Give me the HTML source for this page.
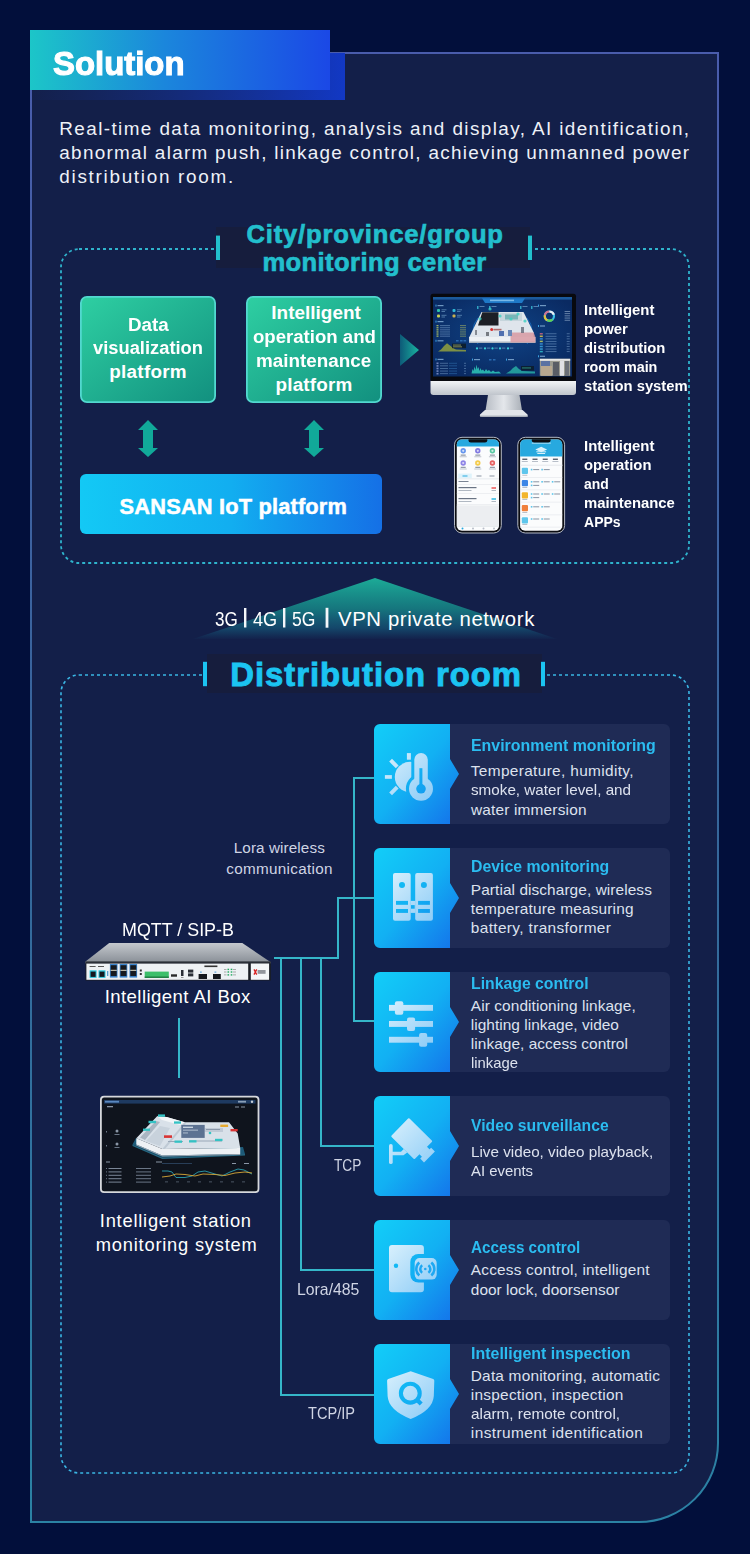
<!DOCTYPE html>
<html><head><meta charset="utf-8"><title>Solution</title>
<style>
html,body{margin:0;padding:0;}
body{width:750px;height:1554px;background:#020f3b;position:relative;overflow:hidden;font-family:"Liberation Sans",sans-serif;}
.t{position:absolute;white-space:nowrap;}
svg{position:absolute;left:0;top:0;}
</style></head><body>
<svg width="750" height="1554" viewBox="0 0 750 1554">
<defs>
<linearGradient id="gBorder" x1="0" y1="0" x2="0" y2="1"><stop offset="0" stop-color="#4a5cac"/><stop offset="0.5" stop-color="#36659a"/><stop offset="1" stop-color="#2b82a4"/></linearGradient>
<linearGradient id="gBanner" x1="0" y1="0" x2="1" y2="0"><stop offset="0" stop-color="#1cc6c8"/><stop offset="0.45" stop-color="#1b86dc"/><stop offset="1" stop-color="#1b48e6"/></linearGradient>
<linearGradient id="gGreen" x1="0" y1="0" x2="1" y2="1"><stop offset="0" stop-color="#2ecfa2"/><stop offset="1" stop-color="#12907f"/></linearGradient>
<linearGradient id="gIoT" x1="0" y1="0" x2="1" y2="0"><stop offset="0" stop-color="#13c9f5"/><stop offset="0.5" stop-color="#12aef0"/><stop offset="1" stop-color="#1570e6"/></linearGradient>
<linearGradient id="gIcon" x1="0" y1="0" x2="1" y2="1"><stop offset="0" stop-color="#12cef8"/><stop offset="0.5" stop-color="#12b0f3"/><stop offset="1" stop-color="#1470ea"/></linearGradient>
<linearGradient id="gGlyph" gradientUnits="userSpaceOnUse" x1="10" y1="25" x2="60" y2="75"><stop offset="0" stop-color="#dcf2fd"/><stop offset="1" stop-color="#8ccbf6"/></linearGradient>
<linearGradient id="gTri" x1="0" y1="0" x2="0" y2="1"><stop offset="0" stop-color="#1cab97"/><stop offset="0.5" stop-color="#179c94" stop-opacity="0.7"/><stop offset="0.82" stop-color="#1688a0" stop-opacity="0.38"/><stop offset="1" stop-color="#1680a0" stop-opacity="0.03"/></linearGradient>
<linearGradient id="gPlay" x1="0" y1="0" x2="1" y2="0"><stop offset="0" stop-color="#0d5a78"/><stop offset="1" stop-color="#19b3a0"/></linearGradient>
</defs><path d="M31,53 H718 V1443 A79,79 0 0 1 639,1522 H31 Z" fill="#131f49" stroke="url(#gBorder)" stroke-width="2"/><linearGradient id="gShadow" x1="0" y1="0" x2="1" y2="0"><stop offset="0" stop-color="#1a3a9a" stop-opacity="0.03"/><stop offset="0.5" stop-color="#1538b0" stop-opacity="0.5"/><stop offset="1" stop-color="#1238c4"/></linearGradient><rect x="31" y="53" width="314" height="47" fill="url(#gShadow)"/><rect x="30" y="30" width="300" height="60" fill="url(#gBanner)"/><rect x="61" y="249" width="628" height="314" rx="18" fill="none" stroke="#2fb3cc" stroke-width="1.8" stroke-dasharray="3 3"/><rect x="216" y="227" width="314" height="41" fill="#161d3d"/><rect x="216" y="235.6" width="4" height="24.4" fill="#22bfcd"/><rect x="528" y="235.6" width="4" height="24.4" fill="#22bfcd"/><rect x="80.9" y="296.9" width="134.2" height="105.2" rx="6" fill="url(#gGreen)" stroke="#52d8cf" stroke-width="1.8"/><rect x="246.9" y="296.9" width="134.2" height="105.2" rx="6" fill="url(#gGreen)" stroke="#52d8cf" stroke-width="1.8"/><path d="M148,420 L158,430 L153,430 L153,448 L158,448 L148,457 L138,448 L143,448 L143,430 L138,430 Z" fill="#11a999"/><path d="M314,420 L324,430 L319,430 L319,448 L324,448 L314,457 L304,448 L309,448 L309,430 L304,430 Z" fill="#11a999"/><rect x="80" y="474" width="302" height="60" rx="6" fill="url(#gIoT)"/><path d="M400,334 L419,350 L400,366 Z" fill="url(#gPlay)"/><defs><radialGradient id="gScr" cx="0.5" cy="0.45" r="0.6"><stop offset="0" stop-color="#0f4487"/><stop offset="1" stop-color="#0a2a62"/></radialGradient><linearGradient id="gChin" x1="0" y1="0" x2="0" y2="1"><stop offset="0" stop-color="#f2f4f6"/><stop offset="1" stop-color="#c0c5cc"/></linearGradient><linearGradient id="gNeck" x1="0" y1="0" x2="1" y2="0"><stop offset="0" stop-color="#b8bdc5"/><stop offset="0.5" stop-color="#e4e7eb"/><stop offset="1" stop-color="#aab0b8"/></linearGradient></defs><rect x="430.5" y="293.8" width="145.5" height="88" rx="2.5" fill="#08090e"/><rect x="433" y="297" width="139" height="79.5" fill="url(#gScr)"/><rect x="433" y="297" width="139" height="2.6" fill="#1b5a9c"/><path d="M482,298.3 H525 L522,303 H485 Z" fill="#1f79c8"/><rect x="490" y="299.6" width="24" height="1.6" fill="#9fd4f5" opacity=".7"/><rect x="437" y="309" width="3" height="3" rx="1" fill="#2fc3a8"/><rect x="441.5" y="309.3" width="5" height="1" fill="#7aa8d0" opacity=".6"/><rect x="441.5" y="311" width="3.5" height="1" fill="#7aa8d0" opacity=".6"/><rect x="452.5" y="309" width="3" height="3" rx="1" fill="#2fb8d8"/><rect x="457.0" y="309.3" width="5" height="1" fill="#7aa8d0" opacity=".6"/><rect x="457.0" y="311" width="3.5" height="1" fill="#7aa8d0" opacity=".6"/><rect x="437" y="314.5" width="3" height="3" rx="1" fill="#c8d050"/><rect x="441.5" y="314.8" width="5" height="1" fill="#7aa8d0" opacity=".6"/><rect x="441.5" y="316.5" width="3.5" height="1" fill="#7aa8d0" opacity=".6"/><rect x="452.5" y="314.5" width="3" height="3" rx="1" fill="#c8b050"/><rect x="457.0" y="314.8" width="5" height="1" fill="#7aa8d0" opacity=".6"/><rect x="457.0" y="316.5" width="3.5" height="1" fill="#7aa8d0" opacity=".6"/><rect x="435.5" y="304.6" width="1" height="2" fill="#3aa0e0"/><rect x="437.5" y="305.0" width="6" height="1.2" fill="#9ac4e8" opacity=".7"/><rect x="435.5" y="320.6" width="1" height="2" fill="#3aa0e0"/><rect x="437.5" y="321.0" width="6" height="1.2" fill="#9ac4e8" opacity=".7"/><rect x="435.5" y="339.8" width="1" height="2" fill="#3aa0e0"/><rect x="437.5" y="340.2" width="6" height="1.2" fill="#9ac4e8" opacity=".7"/><rect x="435.5" y="358.4" width="1" height="2" fill="#3aa0e0"/><rect x="437.5" y="358.79999999999995" width="6" height="1.2" fill="#9ac4e8" opacity=".7"/><rect x="436.5" y="325.0" width="2" height="1.3" fill="#b8c860" opacity=".85"/><rect x="440" y="325.2" width="10" height="0.9" fill="#8ab0d8" opacity=".55"/><rect x="460" y="325.2" width="6" height="0.9" fill="#c0c860" opacity=".6"/><rect x="436.5" y="327.1" width="2" height="1.3" fill="#b8c860" opacity=".85"/><rect x="440" y="327.3" width="10" height="0.9" fill="#8ab0d8" opacity=".55"/><rect x="460" y="327.3" width="6" height="0.9" fill="#c0c860" opacity=".6"/><rect x="436.5" y="329.2" width="2" height="1.3" fill="#b8c860" opacity=".85"/><rect x="440" y="329.4" width="10" height="0.9" fill="#8ab0d8" opacity=".55"/><rect x="460" y="329.4" width="6" height="0.9" fill="#c0c860" opacity=".6"/><rect x="436.5" y="331.3" width="2" height="1.3" fill="#b8c860" opacity=".85"/><rect x="440" y="331.5" width="10" height="0.9" fill="#8ab0d8" opacity=".55"/><rect x="460" y="331.5" width="6" height="0.9" fill="#c0c860" opacity=".6"/><rect x="436.5" y="333.4" width="2" height="1.3" fill="#b8c860" opacity=".85"/><rect x="440" y="333.59999999999997" width="10" height="0.9" fill="#8ab0d8" opacity=".55"/><rect x="460" y="333.59999999999997" width="6" height="0.9" fill="#c0c860" opacity=".6"/><rect x="436.5" y="335.5" width="2" height="1.3" fill="#b8c860" opacity=".85"/><rect x="440" y="335.7" width="10" height="0.9" fill="#8ab0d8" opacity=".55"/><rect x="460" y="335.7" width="6" height="0.9" fill="#c0c860" opacity=".6"/><path d="M438,351.5 L441,349.5 L444,346 L447,343.2 L450,345.5 L453,348 L456,349.5 L466,350 L466,351.5 Z" fill="#8a9a40" opacity=".9"/><rect x="452" y="343.6" width="14" height="4.6" fill="#0c1a20" opacity=".8"/><rect x="453" y="344.6" width="8" height="0.9" fill="#c8c870" opacity=".7"/><rect x="453" y="346.4" width="9" height="0.9" fill="#c8c870" opacity=".7"/><rect x="456" y="340" width="2.6" height="1.5" fill="#2a6ab0"/><rect x="460" y="340" width="2.6" height="1.5" fill="#2a6ab0"/><rect x="463.5" y="340" width="2.6" height="1.5" fill="#2a6ab0"/><rect x="436.5" y="362.5" width="2" height="1.6" fill="#8a9ad0" opacity=".8"/><rect x="440" y="362.8" width="8" height="0.9" fill="#8ab0d8" opacity=".5"/><rect x="449" y="362.8" width="8" height="0.9" fill="#3a80c0" opacity=".5"/><rect x="464" y="362.8" width="2" height="0.9" fill="#8ab0d8" opacity=".5"/><rect x="436.5" y="365.1" width="2" height="1.6" fill="#8a9ad0" opacity=".8"/><rect x="440" y="365.40000000000003" width="8" height="0.9" fill="#8ab0d8" opacity=".5"/><rect x="449" y="365.40000000000003" width="8" height="0.9" fill="#3a80c0" opacity=".5"/><rect x="464" y="365.40000000000003" width="2" height="0.9" fill="#8ab0d8" opacity=".5"/><rect x="436.5" y="367.7" width="2" height="1.6" fill="#8a9ad0" opacity=".8"/><rect x="440" y="368.0" width="8" height="0.9" fill="#8ab0d8" opacity=".5"/><rect x="449" y="368.0" width="8" height="0.9" fill="#3a80c0" opacity=".5"/><rect x="464" y="368.0" width="2" height="0.9" fill="#8ab0d8" opacity=".5"/><rect x="436.5" y="370.3" width="2" height="1.6" fill="#8a9ad0" opacity=".8"/><rect x="440" y="370.6" width="8" height="0.9" fill="#8ab0d8" opacity=".5"/><rect x="449" y="370.6" width="8" height="0.9" fill="#3a80c0" opacity=".5"/><rect x="464" y="370.6" width="2" height="0.9" fill="#8ab0d8" opacity=".5"/><rect x="436.5" y="372.9" width="2" height="1.6" fill="#8a9ad0" opacity=".8"/><rect x="440" y="373.2" width="8" height="0.9" fill="#8ab0d8" opacity=".5"/><rect x="449" y="373.2" width="8" height="0.9" fill="#3a80c0" opacity=".5"/><rect x="464" y="373.2" width="2" height="0.9" fill="#8ab0d8" opacity=".5"/><path d="M478,318 A26,22 0 0 0 478,344" fill="none" stroke="#1a78d0" stroke-width="1" opacity=".7"/><path d="M527,318 A26,22 0 0 1 527,344" fill="none" stroke="#1a78d0" stroke-width="1" opacity=".7"/><path d="M481.5,312 H523.5 L533.7,332.4 V337.5 H469.1 Z" fill="#dfe5ec"/><path d="M469.1,337 H535.4 V342.6 H469.1 Z" fill="#eef1f4"/><path d="M469.1,341.5 H535.4 V343 H469.1 Z" fill="#aab4c0"/><path d="M482.3,312.3 H498.5 V325.6 H478 Z" fill="#1c1f26"/><rect x="500" y="313" width="22" height="8" fill="#b0c8d0" opacity=".55"/><rect x="505" y="314.5" width="13" height="5" fill="#3a9a9a" opacity=".55"/><path d="M510.5,332.4 H533.7 L535.4,337 V342.6 H510.5 Z" fill="#d89aa2" opacity=".85"/><rect x="499" y="331" width="5" height="5" fill="#5070b0"/><rect x="508" y="330" width="4" height="6" fill="#6a88b8"/><circle cx="491.7" cy="329.6" r="1.5" fill="#d83030"/><rect x="493.5" y="328.8" width="8" height="1.6" fill="#a05050" opacity=".8"/><circle cx="480" cy="318.8" r="1.6" fill="#3ad0c0" opacity=".8"/><circle cx="490" cy="309" r="1.6" fill="#3ad0c0" opacity=".8"/><circle cx="500" cy="316" r="1.6" fill="#3ad0c0" opacity=".8"/><circle cx="511" cy="319" r="1.6" fill="#3ad0c0" opacity=".8"/><circle cx="518" cy="314" r="1.6" fill="#3ad0c0" opacity=".8"/><circle cx="525" cy="321" r="1.6" fill="#3ad0c0" opacity=".8"/><rect x="486" y="332" width="3" height="4" fill="#30343c" opacity=".6"/><rect x="475" y="330" width="2" height="5" fill="#30343c" opacity=".5"/><rect x="521" y="327" width="3" height="6" fill="#50586a" opacity=".7"/><rect x="477" y="306" width="1.5" height="3" fill="#3ac0d8" opacity=".8"/><rect x="479.5" y="306" width="5" height="1" fill="#8ab0d8" opacity=".6"/><rect x="489" y="306" width="1.5" height="3" fill="#3ac0d8" opacity=".8"/><rect x="491.5" y="306" width="5" height="1" fill="#8ab0d8" opacity=".6"/><rect x="520" y="306" width="1.5" height="3" fill="#3ac0d8" opacity=".8"/><rect x="522.5" y="306" width="5" height="1" fill="#8ab0d8" opacity=".6"/><rect x="531" y="306" width="1.5" height="3" fill="#3ac0d8" opacity=".8"/><rect x="533.5" y="306" width="5" height="1" fill="#8ab0d8" opacity=".6"/><circle cx="477" cy="348.4" r="1.1" fill="#3ad0d8"/><rect x="478.8" y="347.6" width="3.5" height="1" fill="#8ab0d8" opacity=".6"/><circle cx="485" cy="348.4" r="1.1" fill="#3ad0d8"/><rect x="486.8" y="347.6" width="3.5" height="1" fill="#8ab0d8" opacity=".6"/><circle cx="492.5" cy="348.4" r="1.1" fill="#3ad0d8"/><rect x="494.3" y="347.6" width="3.5" height="1" fill="#8ab0d8" opacity=".6"/><circle cx="500" cy="348.4" r="1.1" fill="#3ad0d8"/><rect x="501.8" y="347.6" width="3.5" height="1" fill="#8ab0d8" opacity=".6"/><circle cx="508" cy="348.4" r="1.1" fill="#3ad0d8"/><rect x="509.8" y="347.6" width="3.5" height="1" fill="#8ab0d8" opacity=".6"/><path d="M471.5,373.5 L472.5,369 L473.5,371 L474.5,366.5 L475.5,370 L476.5,364.5 L477.5,369 L478.5,367 L479.5,371 L480.5,368 L481.5,370.5 L483,369.5 L484.5,371.5 L486,369 L487.5,371 L489,370 L491,372 L493,370.5 L495,372 L499,371.5 L501,373.5 Z" fill="#2ec8b8" opacity=".85"/><rect x="472" y="358.6" width="1" height="2" fill="#3aa0e0"/><rect x="474" y="359" width="6" height="1.2" fill="#9ac4e8" opacity=".7"/><rect x="489" y="359" width="2.5" height="1.5" fill="#2a6ab0"/><rect x="493" y="359" width="2.5" height="1.5" fill="#2a6ab0"/><path d="M506,373.5 L510,371 L513,368 L516,366 L519,369 L522,371 L535,371.5 V373.5 Z" fill="#2ec8b0" opacity=".7"/><rect x="521" y="366" width="13" height="4.5" fill="#0c1a20" opacity=".75"/><rect x="522" y="367.5" width="9" height="0.9" fill="#40c8a0" opacity=".7"/><rect x="506" y="358.6" width="1" height="2" fill="#3aa0e0"/><rect x="508" y="359" width="6" height="1.2" fill="#9ac4e8" opacity=".7"/><rect x="538" y="304.6" width="1" height="2" fill="#3aa0e0"/><rect x="540" y="305" width="6" height="1.2" fill="#9ac4e8" opacity=".7"/><circle cx="549.4" cy="316.1" r="4.6" fill="none" stroke="#3ac0e8" stroke-width="2.2"/><path d="M549.4,311.5 A4.6,4.6 0 0 0 544.9,315.2" fill="none" stroke="#d07090" stroke-width="2.2"/><path d="M544.9,315.2 A4.6,4.6 0 0 0 547.5,320.3" fill="none" stroke="#e0c040" stroke-width="2.2"/><path d="M547.5,320.3 A4.6,4.6 0 0 0 552.5,319.5" fill="none" stroke="#60d050" stroke-width="2.2"/><path d="M549.4,311.5 A4.6,4.6 0 0 1 553.8,314.8" fill="none" stroke="#e8eef4" stroke-width="2.2"/><rect x="564.6" y="311.0" width="5.5" height="0.9" fill="#b0c8e0" opacity=".6"/><rect x="564.6" y="313.2" width="5.5" height="0.9" fill="#b0c8e0" opacity=".6"/><rect x="564.6" y="315.4" width="5.5" height="0.9" fill="#b0c8e0" opacity=".6"/><rect x="564.6" y="317.6" width="5.5" height="0.9" fill="#b0c8e0" opacity=".6"/><rect x="564.6" y="319.8" width="5.5" height="0.9" fill="#b0c8e0" opacity=".6"/><rect x="538" y="325" width="1" height="2" fill="#3aa0e0"/><rect x="540" y="325.4" width="5" height="1.2" fill="#9ac4e8" opacity=".7"/><rect x="539.8" y="333.0" width="3" height="1.5" fill="#c06080" opacity=".9"/><rect x="545.5" y="333.3" width="11" height="0.9" fill="#8ab0d8" opacity=".5"/><rect x="566.7" y="333.3" width="3" height="0.9" fill="#8ab0d8" opacity=".5"/><rect x="539.8" y="335.55" width="3" height="1.5" fill="#d8c050" opacity=".9"/><rect x="545.5" y="335.85" width="11" height="0.9" fill="#8ab0d8" opacity=".5"/><rect x="566.7" y="335.85" width="3" height="0.9" fill="#8ab0d8" opacity=".5"/><rect x="539.8" y="338.1" width="3" height="1.5" fill="#3a90d8" opacity=".9"/><rect x="545.5" y="338.40000000000003" width="11" height="0.9" fill="#8ab0d8" opacity=".5"/><rect x="566.7" y="338.40000000000003" width="3" height="0.9" fill="#8ab0d8" opacity=".5"/><rect x="539.8" y="340.65" width="3" height="1.5" fill="#b8c860" opacity=".9"/><rect x="545.5" y="340.95" width="11" height="0.9" fill="#8ab0d8" opacity=".5"/><rect x="566.7" y="340.95" width="3" height="0.9" fill="#8ab0d8" opacity=".5"/><rect x="539.8" y="343.2" width="3" height="1.5" fill="#3a90d8" opacity=".9"/><rect x="545.5" y="343.5" width="11" height="0.9" fill="#8ab0d8" opacity=".5"/><rect x="566.7" y="343.5" width="3" height="0.9" fill="#8ab0d8" opacity=".5"/><rect x="539.8" y="345.75" width="3" height="1.5" fill="#3aa0d8" opacity=".9"/><rect x="545.5" y="346.05" width="11" height="0.9" fill="#8ab0d8" opacity=".5"/><rect x="566.7" y="346.05" width="3" height="0.9" fill="#8ab0d8" opacity=".5"/><rect x="539.8" y="348.3" width="3" height="1.5" fill="#3aa0d8" opacity=".9"/><rect x="545.5" y="348.6" width="11" height="0.9" fill="#8ab0d8" opacity=".5"/><rect x="566.7" y="348.6" width="3" height="0.9" fill="#8ab0d8" opacity=".5"/><rect x="539.8" y="350.85" width="3" height="1.5" fill="#30b8c8" opacity=".9"/><rect x="545.5" y="351.15000000000003" width="11" height="0.9" fill="#8ab0d8" opacity=".5"/><rect x="566.7" y="351.15000000000003" width="3" height="0.9" fill="#8ab0d8" opacity=".5"/><rect x="538" y="355.3" width="1" height="2" fill="#3aa0e0"/><rect x="540" y="355.7" width="5" height="1.2" fill="#9ac4e8" opacity=".7"/><rect x="539.8" y="358.8" width="30.4" height="17" fill="#9a9a90"/><rect x="539.8" y="358.8" width="30.4" height="2" fill="#e8e8e8"/><rect x="541" y="361" width="9" height="5" fill="#4a68a8" opacity=".8"/><rect x="541" y="366" width="11" height="9.8" fill="#b8a890"/><rect x="553" y="362" width="6" height="13.8" fill="#5a5e66"/><rect x="560" y="360.8" width="4" height="15" fill="#e0e0e4"/><rect x="565" y="361" width="4" height="14.8" fill="#6a6e76"/><path d="M430.5,381 H576 V392 Q576,395 573,395 H433.5 Q430.5,395 430.5,392 Z" fill="url(#gChin)"/><path d="M488,395 H519.5 L522,410.5 H485.5 Z" fill="url(#gNeck)"/><path d="M485,410 H522.5 L527.5,414.5 Q528,416.7 525.5,416.7 H482 Q479.5,416.7 480,414.5 Z" fill="#e2e5e9"/><rect x="480" y="415.6" width="48" height="1.1" fill="#a8aeb6"/><rect x="454.5" y="437.3" width="46.8" height="95.7" rx="7.5" fill="#0c0d12" stroke="#b4b9c4" stroke-width="1"/><rect x="456.8" y="439.6" width="42.2" height="91.1" rx="5" fill="#fbfcfd"/><rect x="517.8" y="437.3" width="46.8" height="95.7" rx="7.5" fill="#0c0d12" stroke="#b4b9c4" stroke-width="1"/><rect x="520.0999999999999" y="439.6" width="42.2" height="91.1" rx="5" fill="#fbfcfd"/><path d="M456.8,445 Q456.8,439.6 462.3,439.6 H493.5 Q499.0,439.6 499.0,445 V446.6 H456.8 Z" fill="#27a9df"/><circle cx="463.2" cy="450.8" r="2.7" fill="#4a82ea" opacity=".85"/><circle cx="463.2" cy="450.8" r="1.1" fill="#fff" opacity=".7"/><rect x="460.7" y="454.6" width="5" height="1" fill="#7a8494"/><rect x="459.7" y="456.40000000000003" width="7" height="0.8" fill="#b0b6c0"/><circle cx="477.8" cy="450.8" r="2.7" fill="#6a62dc" opacity=".85"/><circle cx="477.8" cy="450.8" r="1.1" fill="#fff" opacity=".7"/><rect x="475.3" y="454.6" width="5" height="1" fill="#7a8494"/><rect x="474.3" y="456.40000000000003" width="7" height="0.8" fill="#b0b6c0"/><circle cx="492.4" cy="450.8" r="2.7" fill="#3cc094" opacity=".85"/><circle cx="492.4" cy="450.8" r="1.1" fill="#fff" opacity=".7"/><rect x="489.9" y="454.6" width="5" height="1" fill="#7a8494"/><rect x="488.9" y="456.40000000000003" width="7" height="0.8" fill="#b0b6c0"/><circle cx="463.2" cy="463.0" r="2.7" fill="#7a6ee2" opacity=".85"/><circle cx="463.2" cy="463.0" r="1.1" fill="#fff" opacity=".7"/><rect x="460.7" y="466.8" width="5" height="1" fill="#7a8494"/><rect x="459.7" y="468.6" width="7" height="0.8" fill="#b0b6c0"/><circle cx="477.8" cy="463.0" r="2.7" fill="#f2c22a" opacity=".85"/><circle cx="477.8" cy="463.0" r="1.1" fill="#fff" opacity=".7"/><rect x="475.3" y="466.8" width="5" height="1" fill="#7a8494"/><rect x="474.3" y="468.6" width="7" height="0.8" fill="#b0b6c0"/><circle cx="492.4" cy="463.0" r="2.7" fill="#e24646" opacity=".85"/><circle cx="492.4" cy="463.0" r="1.1" fill="#fff" opacity=".7"/><rect x="489.9" y="466.8" width="5" height="1" fill="#7a8494"/><rect x="488.9" y="468.6" width="7" height="0.8" fill="#b0b6c0"/><rect x="458.3" y="473.6" width="13.5" height="4.6" fill="#dff3fb"/><rect x="462.5" y="475.5" width="5" height="1" fill="#27a9df"/><rect x="476.5" y="475.5" width="5" height="1" fill="#8a94a4"/><rect x="489.5" y="475.5" width="5" height="1" fill="#8a94a4"/><rect x="456.8" y="478.6" width="42.2" height="0.6" fill="#dde1e6"/><rect x="458.5" y="481" width="10" height="1" fill="#7a8494"/><rect x="456.8" y="484" width="42.2" height="0.6" fill="#e4e7eb"/><rect x="458.5" y="487" width="18" height="1.2" fill="#6a7484"/><rect x="458.5" y="490" width="13" height="0.9" fill="#a8b0bc"/><rect x="491.5" y="487" width="4.5" height="2" fill="#f08080"/><rect x="491.5" y="490" width="4.5" height="0.9" fill="#a8b0bc"/><rect x="456.8" y="493" width="42.2" height="0.6" fill="#e4e7eb"/><rect x="458.5" y="498" width="18" height="1.2" fill="#6a7484"/><rect x="458.5" y="501" width="13" height="0.9" fill="#a8b0bc"/><rect x="491.5" y="498" width="4.5" height="2" fill="#60c8e8"/><rect x="491.5" y="501" width="4.5" height="0.9" fill="#a8b0bc"/><rect x="456.8" y="504" width="42.2" height="0.6" fill="#e4e7eb"/><rect x="456.8" y="505.4" width="42.2" height="20.8" fill="#eceef1"/><rect x="456.8" y="526.2" width="42.2" height="0.6" fill="#dde1e6"/><circle cx="462.5" cy="528.6" r="1" fill="#27a9df"/><circle cx="473.0" cy="528.6" r="1" fill="#b8bec8"/><circle cx="483.5" cy="528.6" r="1" fill="#b8bec8"/><circle cx="494.0" cy="528.6" r="1" fill="#b8bec8"/><path d="M520.0999999999999,445 Q520.0999999999999,439.6 525.5999999999999,439.6 H556.8 Q562.3,439.6 562.3,445 V456.4 H520.0999999999999 Z" fill="#27a9df"/><rect x="531.8" y="442.6" width="19" height="1" fill="#bfe7f8"/><path d="M535.3,449.5 L541.1999999999999,446.8 L547.0999999999999,449.5 L541.1999999999999,452.2 Z" fill="#d8f1fb"/><rect x="536.3" y="451.3" width="9.8" height="1" fill="#d8f1fb"/><rect x="537.3" y="453" width="7.8" height="1" fill="#d8f1fb"/><rect x="522.3" y="458.6" width="5" height="1.3" fill="#4a5464"/><rect x="521.8" y="461" width="6" height="0.8" fill="#a8b0bc"/><rect x="532.5" y="458.6" width="5" height="1.3" fill="#4a5464"/><rect x="532.0" y="461" width="6" height="0.8" fill="#a8b0bc"/><rect x="542.6999999999999" y="458.6" width="5" height="1.3" fill="#4a5464"/><rect x="542.1999999999999" y="461" width="6" height="0.8" fill="#a8b0bc"/><rect x="552.9" y="458.6" width="5" height="1.3" fill="#4a5464"/><rect x="552.4" y="461" width="6" height="0.8" fill="#a8b0bc"/><rect x="520.0999999999999" y="464.6" width="42.2" height="1.4" fill="#eceef1"/><rect x="521.8" y="467.8" width="6.2" height="6.2" rx="1" fill="#5ec6ec"/><rect x="522.3" y="474.8" width="5" height="0.8" fill="#a8b0bc"/><rect x="530.8" y="468.8" width="1.6" height="1.6" fill="#5ec6ec"/><rect x="533.1999999999999" y="469.1" width="6" height="1" fill="#8a94a4"/><rect x="541.3" y="468.8" width="1.6" height="1.6" fill="#5ec6ec"/><rect x="543.6999999999999" y="469.1" width="6" height="1" fill="#8a94a4"/><rect x="520.0999999999999" y="477.40000000000003" width="42.2" height="0.6" fill="#e4e7eb"/><rect x="521.8" y="480" width="6.2" height="6.2" rx="1" fill="#3d86e6"/><rect x="522.3" y="487" width="5" height="0.8" fill="#a8b0bc"/><rect x="530.8" y="481" width="1.6" height="1.6" fill="#5ec6ec"/><rect x="533.1999999999999" y="481.3" width="6" height="1" fill="#8a94a4"/><rect x="541.3" y="481" width="1.6" height="1.6" fill="#5ec6ec"/><rect x="543.6999999999999" y="481.3" width="6" height="1" fill="#8a94a4"/><rect x="551.8" y="481" width="1.6" height="1.6" fill="#5ec6ec"/><rect x="554.1999999999999" y="481.3" width="6" height="1" fill="#8a94a4"/><rect x="530.8" y="484.6" width="1.6" height="1.6" fill="#5ec6ec"/><rect x="533.1999999999999" y="484.9" width="6" height="1" fill="#8a94a4"/><rect x="520.0999999999999" y="489.6" width="42.2" height="0.6" fill="#e4e7eb"/><rect x="521.8" y="492.2" width="6.2" height="6.2" rx="1" fill="#f2b52c"/><rect x="522.3" y="499.2" width="5" height="0.8" fill="#a8b0bc"/><rect x="530.8" y="493.2" width="1.6" height="1.6" fill="#5ec6ec"/><rect x="533.1999999999999" y="493.5" width="6" height="1" fill="#8a94a4"/><rect x="541.3" y="493.2" width="1.6" height="1.6" fill="#5ec6ec"/><rect x="543.6999999999999" y="493.5" width="6" height="1" fill="#8a94a4"/><rect x="551.8" y="493.2" width="1.6" height="1.6" fill="#5ec6ec"/><rect x="554.1999999999999" y="493.5" width="6" height="1" fill="#8a94a4"/><rect x="530.8" y="496.8" width="1.6" height="1.6" fill="#5ec6ec"/><rect x="533.1999999999999" y="497.09999999999997" width="6" height="1" fill="#8a94a4"/><rect x="520.0999999999999" y="501.8" width="42.2" height="0.6" fill="#e4e7eb"/><rect x="521.8" y="505" width="6.2" height="6.2" rx="1" fill="#f0803c"/><rect x="522.3" y="512" width="5" height="0.8" fill="#a8b0bc"/><rect x="530.8" y="506" width="1.6" height="1.6" fill="#5ec6ec"/><rect x="533.1999999999999" y="506.3" width="6" height="1" fill="#8a94a4"/><rect x="541.3" y="506" width="1.6" height="1.6" fill="#5ec6ec"/><rect x="543.6999999999999" y="506.3" width="6" height="1" fill="#8a94a4"/><rect x="520.0999999999999" y="514.6" width="42.2" height="0.6" fill="#e4e7eb"/><rect x="521.8" y="517.2" width="6.2" height="6.2" rx="1" fill="#5ec6ec"/><rect x="522.3" y="524.2" width="5" height="0.8" fill="#a8b0bc"/><rect x="530.8" y="518.2" width="1.6" height="1.6" fill="#5ec6ec"/><rect x="533.1999999999999" y="518.5" width="6" height="1" fill="#8a94a4"/><rect x="541.3" y="518.2" width="1.6" height="1.6" fill="#5ec6ec"/><rect x="543.6999999999999" y="518.5" width="6" height="1" fill="#8a94a4"/><rect x="520.0999999999999" y="526.8000000000001" width="42.2" height="0.6" fill="#e4e7eb"/><path d="M468.5,439.3 H487.3 V440.5 Q487.3,442.6 485.0,442.6 H470.8 Q468.5,442.6 468.5,440.5 Z" fill="#0c0d12"/><path d="M531.8,439.3 H550.5999999999999 V440.5 Q550.5999999999999,442.6 548.3,442.6 H534.0999999999999 Q531.8,442.6 531.8,440.5 Z" fill="#0c0d12"/><path d="M375,578 L557,639 L193,639 Z" fill="url(#gTri)"/><rect x="61" y="675" width="628" height="798" rx="18" fill="none" stroke="#3ab6e4" stroke-width="1.6" stroke-dasharray="3 3"/><rect x="207" y="654" width="335" height="39" fill="#161d3d"/><rect x="203" y="661.8" width="4" height="24.4" fill="#1bc4f2"/><rect x="541" y="661.8" width="4" height="24.4" fill="#1bc4f2"/><line x1="354" y1="777" x2="354" y2="1022" stroke="#35b6c9" stroke-width="2"/><line x1="353" y1="778" x2="374" y2="778" stroke="#35b6c9" stroke-width="2"/><line x1="353" y1="1021" x2="374" y2="1021" stroke="#35b6c9" stroke-width="2"/><line x1="337" y1="898" x2="374" y2="898" stroke="#35b6c9" stroke-width="2"/><line x1="338" y1="897" x2="338" y2="959" stroke="#35b6c9" stroke-width="2"/><line x1="274" y1="958" x2="339" y2="958" stroke="#35b6c9" stroke-width="2"/><line x1="281" y1="957" x2="281" y2="1396" stroke="#35b6c9" stroke-width="2"/><line x1="280" y1="1395" x2="374" y2="1395" stroke="#35b6c9" stroke-width="2"/><line x1="301" y1="957" x2="301" y2="1271" stroke="#35b6c9" stroke-width="2"/><line x1="300" y1="1270" x2="374" y2="1270" stroke="#35b6c9" stroke-width="2"/><line x1="321" y1="957" x2="321" y2="1147" stroke="#35b6c9" stroke-width="2"/><line x1="320" y1="1146" x2="374" y2="1146" stroke="#35b6c9" stroke-width="2"/><line x1="179" y1="1018" x2="179" y2="1078" stroke="#35b6c9" stroke-width="2"/><rect x="374" y="724" width="296" height="100" rx="6" fill="#1f2b55"/><path d="M380,724 H450 V759 L459,774 L450,789 V824 H380 A6,6 0 0 1 374,818 V730 A6,6 0 0 1 380,724 Z" fill="url(#gIcon)"/><g transform="translate(374,724)"><defs>
<mask id="mSun0" maskUnits="userSpaceOnUse" x="0" y="0" width="76" height="100"><rect width="76" height="100" fill="#fff"/>
<rect x="37.3" y="26.1" width="19.5" height="40" rx="9.75" fill="#000"/><circle cx="47" cy="64.8" r="15.1" fill="#000"/></mask>
<mask id="mTh0" maskUnits="userSpaceOnUse" x="0" y="0" width="76" height="100"><rect width="76" height="100" fill="#fff"/>
<rect x="45.4" y="44.2" width="3" height="21" fill="#000"/><circle cx="47" cy="64.8" r="4.8" fill="#000"/></mask></defs>
<g fill="url(#gGlyph)">
<g mask="url(#mSun0)">
<rect x="32.9" y="29.1" width="4" height="6.6"/>
<path d="M15.2,37.6 L18,34.8 L24.6,41.4 L21.8,44.2 Z"/>
<rect x="10.9" y="51.1" width="7" height="3.7"/>
<path d="M15.2,68.4 L18,71.2 L24.6,64.6 L21.8,61.8 Z"/>
<circle cx="36" cy="53" r="15.2"/>
</g>
<g mask="url(#mTh0)"><rect x="40.3" y="29.1" width="13.5" height="36" rx="6.75"/><circle cx="47" cy="64.8" r="12"/></g>
</g></g><rect x="374" y="848" width="296" height="100" rx="6" fill="#1f2b55"/><path d="M380,848 H450 V883 L459,898 L450,913 V948 H380 A6,6 0 0 1 374,942 V854 A6,6 0 0 1 380,848 Z" fill="url(#gIcon)"/><g transform="translate(374,848)"><defs><mask id="mDev1" maskUnits="userSpaceOnUse" x="0" y="0" width="76" height="100"><rect width="76" height="100" fill="#fff"/>
<circle cx="28" cy="36.9" r="3" fill="#000"/><circle cx="49.9" cy="36.9" r="3" fill="#000"/>
<rect x="22" y="52.9" width="12" height="3.9" fill="#000"/><rect x="22" y="61" width="12" height="3.9" fill="#000"/>
<rect x="44.1" y="52.9" width="11.8" height="3.9" fill="#000"/><rect x="44.1" y="61" width="11.8" height="3.9" fill="#000"/>
<rect x="37" y="57.1" width="3.7" height="3.6" fill="#000"/></mask></defs>
<g fill="url(#gGlyph)" mask="url(#mDev1)">
<rect x="19" y="25" width="17.7" height="47.7" rx="2"/><rect x="41.2" y="25" width="17.7" height="47.7" rx="2"/>
<rect x="36.5" y="52.9" width="5" height="12"/>
</g></g><rect x="374" y="972" width="296" height="100" rx="6" fill="#1f2b55"/><path d="M380,972 H450 V1007 L459,1022 L450,1037 V1072 H380 A6,6 0 0 1 374,1066 V978 A6,6 0 0 1 380,972 Z" fill="url(#gIcon)"/><g transform="translate(374,972)"><g fill="url(#gGlyph)">
<rect x="15" y="32.9" width="44" height="5.9"/><rect x="20.9" y="29.2" width="8.4" height="13.6" rx="2"/>
<rect x="15" y="49" width="44" height="5.9"/><rect x="33" y="45.4" width="8.1" height="13.5" rx="2"/>
<rect x="15" y="64.8" width="44" height="5.9"/><rect x="45.1" y="61.1" width="8.1" height="13.6" rx="2"/>
</g></g><rect x="374" y="1096" width="296" height="100" rx="6" fill="#1f2b55"/><path d="M380,1096 H450 V1131 L459,1146 L450,1161 V1196 H380 A6,6 0 0 1 374,1190 V1102 A6,6 0 0 1 380,1096 Z" fill="url(#gIcon)"/><g transform="translate(374,1096)"><g fill="url(#gGlyph)">
<path d="M34.1,22.6 Q34.8,21.9 35.5,22.6 L57.8,44.5 Q58.5,45.2 57.8,45.9 L41,62.7 Q40.3,63.4 39.6,62.7 L17.6,41 Q16.9,40.3 17.6,39.6 Z"/>
<path d="M52.7,50.6 L55.9,53.7 L48.4,61.2 L45.2,58 Z"/>
<path d="M57.1,51.8 L60.9,55.5 L50,66.4 L46.2,62.6 Z"/>
<rect x="15" y="48" width="3.7" height="20.1" rx="1.85"/>
<path d="M18,55.7 H27 L29.8,53 L33.2,56.4 L29.5,59.3 H18 Z"/>
</g></g><rect x="374" y="1220" width="296" height="100" rx="6" fill="#1f2b55"/><path d="M380,1220 H450 V1255 L459,1270 L450,1285 V1320 H380 A6,6 0 0 1 374,1314 V1226 A6,6 0 0 1 380,1220 Z" fill="url(#gIcon)"/><g transform="translate(374,1220)"><defs><mask id="mAcc4" maskUnits="userSpaceOnUse" x="0" y="0" width="76" height="100"><rect width="76" height="100" fill="#fff"/>
<rect x="36.3" y="33.9" width="30" height="28.6" rx="8" fill="#000"/><circle cx="22" cy="45.7" r="2.2" fill="#000"/></mask></defs>
<g fill="url(#gGlyph)">
<rect x="15" y="25.1" width="34.9" height="47.2" rx="3" mask="url(#mAcc4)"/>
<rect x="40.7" y="38" width="22" height="21.6" rx="5"/>
</g>
<g fill="none" stroke="#1ea8f2" stroke-width="2.5">
<path d="M48.2,45.3 A4.5,4.5 0 0 0 48.2,52.7"/><path d="M54.4,45.3 A4.5,4.5 0 0 1 54.4,52.7"/>
<path d="M45.3,42.5 A8.5,8.5 0 0 0 45.3,55.5"/><path d="M57.3,42.5 A8.5,8.5 0 0 1 57.3,55.5"/>
</g><circle cx="51.3" cy="49" r="1.3" fill="#22a6f0"/></g><rect x="374" y="1344" width="296" height="100" rx="6" fill="#1f2b55"/><path d="M380,1344 H450 V1379 L459,1394 L450,1409 V1444 H380 A6,6 0 0 1 374,1438 V1350 A6,6 0 0 1 380,1344 Z" fill="url(#gIcon)"/><g transform="translate(374,1344)"><defs><mask id="mIns5" maskUnits="userSpaceOnUse" x="0" y="0" width="76" height="100"><rect width="76" height="100" fill="#fff"/>
<circle cx="36.3" cy="49.2" r="9.4" fill="none" stroke="#000" stroke-width="4.1"/>
<path d="M42.6,55.5 L47.2,60.1" stroke="#000" stroke-width="4.2"/></mask></defs>
<g fill="url(#gGlyph)" mask="url(#mIns5)">
<path d="M36.7,27.2 L59.2,35 Q60.4,35.5 60.3,36.8 L59.8,52 Q59,66 36.7,75 Q14.4,66 13.6,52 L13.1,36.8 Q13,35.5 14.2,35 Z"/>
</g></g><defs><linearGradient id="gBoxTop" x1="0" y1="0" x2="0" y2="1"><stop offset="0" stop-color="#c4c8cd"/><stop offset="1" stop-color="#868c94"/></linearGradient></defs><path d="M109.2,943.1 H242.3 L270.8,962.2 V963.5 H85.5 V961.4 Z" fill="url(#gBoxTop)"/><rect x="85.5" y="961.4" width="185.3" height="2.2" fill="#2a2e36"/><rect x="85.5" y="963.3" width="185.3" height="17.2" fill="#1a1d24"/><rect x="86.4" y="963.6" width="161.8" height="16.2" fill="#eef1f4"/><rect x="250.8" y="963.5" width="18.3" height="16.3" fill="#f4f6f8"/><rect x="89.6" y="970.3" width="7" height="7.6" fill="#2cc6dc"/><rect x="90.6" y="971.6" width="5" height="5.3" fill="#15181e"/><rect x="98.5" y="970.3" width="7" height="7.6" fill="#2cc6dc"/><rect x="99.5" y="971.6" width="5" height="5.3" fill="#15181e"/><rect x="89.6" y="966" width="6" height="1" fill="#555"/><rect x="98" y="966" width="6" height="1" fill="#555"/><rect x="109.9" y="964" width="7.6" height="13.6" fill="#3c86d0"/><rect x="110.7" y="965.2" width="6" height="4.8" fill="#16191f"/><rect x="110.7" y="970.8" width="6" height="5.3" fill="#16191f"/><rect x="110.7" y="969.8" width="6" height="1" fill="#d8c8a8"/><rect x="119.7" y="964" width="7.6" height="13.6" fill="#3c86d0"/><rect x="120.5" y="965.2" width="6" height="4.8" fill="#16191f"/><rect x="120.5" y="970.8" width="6" height="5.3" fill="#16191f"/><rect x="120.5" y="969.8" width="6" height="1" fill="#d8c8a8"/><rect x="129.5" y="964" width="7.6" height="13.6" fill="#3c86d0"/><rect x="130.3" y="965.2" width="6" height="4.8" fill="#16191f"/><rect x="130.3" y="970.8" width="6" height="5.3" fill="#16191f"/><rect x="130.3" y="969.8" width="6" height="1" fill="#d8c8a8"/><rect x="139.8" y="969.5" width="2" height="2" fill="#333"/><rect x="139.8" y="973" width="2" height="2" fill="#333"/><rect x="107" y="971" width="1.3" height="5" fill="#5aa0d0"/><rect x="144.7" y="971.6" width="24.1" height="6.3" fill="#3cbf6a"/><rect x="144.7" y="976.5" width="24.1" height="1.4" fill="#1f7a40"/><rect x="171" y="974.3" width="6" height="2.4" fill="#2a2a2a"/><rect x="181" y="970" width="2.5" height="6" fill="#2a2e36"/><rect x="181" y="977" width="2.5" height="1" fill="#999"/><rect x="188" y="969.6" width="5.3" height="3" fill="#2a2e36"/><rect x="188" y="973.4" width="5.3" height="3" fill="#2a2e36"/><rect x="204.4" y="965.5" width="13" height="1.6" fill="#333"/><rect x="200" y="971.6" width="1.8" height="1" fill="#4a9ad8"/><rect x="214.5" y="971.6" width="1.8" height="1" fill="#4a9ad8"/><rect x="198.6" y="974" width="8.4" height="5" fill="#16191f"/><rect x="213" y="974" width="7.8" height="5" fill="#16191f"/><rect x="227.5" y="968.7" width="1.6" height="1.4" fill="#22a860"/><rect x="230.7" y="968.7" width="1.6" height="1.4" fill="#22a860"/><rect x="233" y="969.0" width="3" height="0.8" fill="#999"/><rect x="224" y="969.0" width="2.5" height="0.8" fill="#999"/><rect x="227.5" y="971.3" width="1.6" height="1.4" fill="#22a860"/><rect x="230.7" y="971.3" width="1.6" height="1.4" fill="#22a860"/><rect x="233" y="971.5999999999999" width="3" height="0.8" fill="#999"/><rect x="224" y="971.5999999999999" width="2.5" height="0.8" fill="#999"/><rect x="227.5" y="974.2" width="1.6" height="1.4" fill="#22a860"/><rect x="230.7" y="974.2" width="1.6" height="1.4" fill="#22a860"/><rect x="233" y="974.5" width="3" height="0.8" fill="#999"/><rect x="224" y="974.5" width="2.5" height="0.8" fill="#999"/><path d="M254,969.4 L256.7,974.6 M256.7,969.4 L254,974.6" stroke="#d82020" stroke-width="1.3"/><rect x="257.6" y="970" width="8" height="3.8" fill="#6a6e76" opacity=".7"/><rect x="100" y="1095.7" width="159.4" height="97.3" rx="4" fill="#d6d8dc"/><rect x="101.8" y="1097.5" width="155.8" height="93.7" rx="2.5" fill="#0f141d"/><rect x="104" y="1100" width="151.5" height="3.6" fill="#1e3a60"/><rect x="105" y="1100.8" width="14" height="1.8" fill="#5a88c0"/><rect x="238" y="1100.8" width="8" height="1.8" fill="#8aa0b8"/><circle cx="252" cy="1101.7" r="1.2" fill="#c8d0d8"/><rect x="107" y="1106" width="6" height="1.3" fill="#8a96a6"/><rect x="235" y="1106.5" width="4" height="1" fill="#8a96a6"/><rect x="241" y="1106.5" width="4" height="1" fill="#8a96a6"/><circle cx="117" cy="1131" r="1.5" fill="#8a96a6"/><rect x="114.5" y="1134" width="5" height="1" fill="#6a7686"/><circle cx="117" cy="1144" r="1.5" fill="#8a96a6"/><rect x="114.5" y="1147" width="5" height="1" fill="#6a7686"/><rect x="106" y="1131" width="1" height="1.5" fill="#6a7686"/><rect x="106" y="1145" width="1" height="1.5" fill="#6a7686"/><path d="M132.5,1144.5 L162.3,1157.5 L245,1154 L243,1147 L162.3,1150 L136,1138 Z" fill="#1d5a78"/><path d="M132.5,1144.5 L162.3,1157.5 L245,1154 L245,1155.5 L162.3,1159 L132.5,1146 Z" fill="#2a7a9a" opacity=".8"/><path d="M136.3,1138.3 L162.3,1149 L240.2,1148 L240.2,1154 L162.3,1155.5 L136.3,1144.5 Z" fill="#eef1f4"/><path d="M136.3,1144.5 L162.3,1155.5 L240.2,1154 L240.2,1155 L162.3,1156.5 L136.3,1145.5 Z" fill="#9aa6b2"/><path d="M136.3,1138.3 L157.1,1116.3 L166.6,1117.1 L184.8,1122.3 L229,1122.3 L237.7,1133.6 L240.2,1148 L162.3,1149 Z" fill="#d9e1e9"/><path d="M157.1,1116.3 L166.6,1117.1 L184.8,1122.3 L180,1125 L162,1120 Z" fill="#f2f5f8"/><path d="M140,1137.5 L156,1121 L160,1122 L145,1140 Z" fill="#aab6c2"/><path d="M146,1141 L160,1126 L170,1128 L160,1146 Z" fill="#c8d2dc"/><path d="M162.3,1149 L184,1123 L186,1123.5 L165,1149 Z" fill="#b8c4d0" opacity=".8"/><rect x="181.3" y="1124.9" width="23.4" height="13" fill="#5c7292"/><rect x="183" y="1126.6" width="10" height="1.4" fill="#c8d4e0"/><rect x="183" y="1129.6" width="15" height="1.1" fill="#c8d4e0" opacity=".7"/><rect x="183" y="1132.4" width="5" height="1.1" fill="#c8d4e0" opacity=".7"/><rect x="205" y="1128" width="18" height="4" fill="#c0cad6"/><rect x="206" y="1129" width="14" height="1" fill="#8a98aa"/><rect x="190" y="1140.5" width="32" height="1" fill="#9aa8b8"/><rect x="168" y="1141" width="15" height="1" fill="#9aa8b8"/><rect x="164" y="1135.3" width="8" height="2.6" fill="#d83434"/><rect x="220.3" y="1124.6" width="7.8" height="2.4" fill="#e6aa30"/><rect x="230.5" y="1129" width="7.2" height="2.4" fill="#d83434"/><rect x="158" y="1114.4" width="7" height="2.4" fill="#34c2c4"/><rect x="148.5" y="1120.8" width="7.5" height="2.4" fill="#34c2c4"/><rect x="174" y="1121.4" width="7" height="2.3" fill="#34c2c4"/><rect x="143" y="1128.6" width="7" height="2.3" fill="#34c2c4"/><rect x="174.5" y="1140.5" width="7.5" height="2.3" fill="#34c2c4"/><rect x="189" y="1140.2" width="7.5" height="2.3" fill="#34c2c4"/><rect x="215" y="1138.8" width="7.5" height="2.3" fill="#34c2c4"/><circle cx="210" cy="1133" r="1.3" fill="#34c2c4"/><rect x="106" y="1161.5" width="4" height="1" fill="#8a96a6"/><rect x="156" y="1161.5" width="6" height="1" fill="#8a96a6"/><rect x="162" y="1163" width="30" height="0.6" fill="#3a5a80"/><rect x="106" y="1168.0" width="1" height="1" fill="#6a7686"/><rect x="108.5" y="1168.0" width="13" height="1" fill="#7a8696"/><rect x="136" y="1168.0" width="15" height="1" fill="#6a7686"/><rect x="106" y="1171.4" width="1" height="1" fill="#6a7686"/><rect x="108.5" y="1171.4" width="13" height="1" fill="#7a8696"/><rect x="136" y="1171.4" width="15" height="1" fill="#6a7686"/><rect x="106" y="1174.8" width="1" height="1" fill="#6a7686"/><rect x="108.5" y="1174.8" width="13" height="1" fill="#7a8696"/><rect x="136" y="1174.8" width="15" height="1" fill="#6a7686"/><rect x="106" y="1178.2" width="1" height="1" fill="#6a7686"/><rect x="108.5" y="1178.2" width="13" height="1" fill="#7a8696"/><rect x="136" y="1178.2" width="15" height="1" fill="#6a7686"/><rect x="106" y="1181.6" width="1" height="1" fill="#6a7686"/><rect x="108.5" y="1181.6" width="13" height="1" fill="#7a8696"/><rect x="136" y="1181.6" width="15" height="1" fill="#6a7686"/><path d="M162,1171 L168,1171 L172,1172 L176,1177.5 L185,1177.5 L192,1176 L198,1172 L205,1171 L215,1174 L222,1176 L230,1172 L238,1169 L244,1170 L252,1174" fill="none" stroke="#2a9eb0" stroke-width="0.9"/><path d="M162,1177 L170,1176 L176,1174 L185,1174.5 L195,1176 L203,1174 L215,1174.5 L225,1175.5 L235,1173 L245,1172 L252,1173" fill="none" stroke="#d8a838" stroke-width="0.9"/><rect x="165" y="1181.5" width="3" height="0.8" fill="#5a6676"/><rect x="176" y="1181.5" width="3" height="0.8" fill="#5a6676"/><rect x="187" y="1181.5" width="3" height="0.8" fill="#5a6676"/><rect x="198" y="1181.5" width="3" height="0.8" fill="#5a6676"/><rect x="209" y="1181.5" width="3" height="0.8" fill="#5a6676"/><rect x="220" y="1181.5" width="3" height="0.8" fill="#5a6676"/><rect x="231" y="1181.5" width="3" height="0.8" fill="#5a6676"/><rect x="242" y="1181.5" width="3" height="0.8" fill="#5a6676"/><rect x="232" y="1163" width="4" height="1" fill="#8a96a6"/><rect x="244" y="1163" width="5" height="1" fill="#8a96a6"/><rect x="244" y="608" width="2.4" height="19.5" fill="#f4f6fa"/><rect x="283" y="608" width="2.4" height="19.5" fill="#f4f6fa"/><rect x="325.6" y="607.8" width="2.8" height="19.9" fill="#f4f6fa"/>
</svg>
<div class="t" style="left:53.20px;top:42.98px;font-size:33.72px;line-height:40.47px;font-weight:700;color:#fff;letter-spacing:0.000px;transform:scaleX(0.9755);transform-origin:0 0;-webkit-text-stroke:1.1px #fff;">Solution</div><div class="t" style="left:59.30px;top:117.52px;font-size:18.90px;line-height:22.67px;font-weight:400;color:#eef1f8;letter-spacing:1.402px;">Real-time data monitoring, analysis and display, AI identification,</div><div class="t" style="left:59.30px;top:142.32px;font-size:18.90px;line-height:22.67px;font-weight:400;color:#eef1f8;letter-spacing:1.285px;">abnormal alarm push, linkage control, achieving unmanned power</div><div class="t" style="left:59.30px;top:165.52px;font-size:18.90px;line-height:22.67px;font-weight:400;color:#eef1f8;letter-spacing:1.706px;">distribution room.</div><div class="t" style="left:246.40px;top:219.39px;font-size:25.58px;line-height:30.70px;font-weight:700;color:#22bfcd;letter-spacing:0.833px;-webkit-text-stroke:0.7px #22bfcd;">City/province/group</div><div class="t" style="left:262.40px;top:246.69px;font-size:25.58px;line-height:30.70px;font-weight:700;color:#22bfcd;letter-spacing:0.400px;-webkit-text-stroke:0.7px #22bfcd;">monitoring center</div><div class="t" style="left:127.50px;top:313.92px;font-size:18.90px;line-height:22.67px;font-weight:700;color:#fff;letter-spacing:0.000px;transform:scaleX(0.9951);transform-origin:0 0;">Data</div><div class="t" style="left:93.00px;top:337.32px;font-size:18.90px;line-height:22.67px;font-weight:700;color:#fff;letter-spacing:0.000px;transform:scaleX(0.9700);transform-origin:0 0;">visualization</div><div class="t" style="left:109.30px;top:360.82px;font-size:18.90px;line-height:22.67px;font-weight:700;color:#fff;letter-spacing:0.257px;">platform</div><div class="t" style="left:271.30px;top:301.72px;font-size:18.90px;line-height:22.67px;font-weight:700;color:#fff;letter-spacing:0.030px;">Intelligent</div><div class="t" style="left:252.50px;top:325.62px;font-size:18.90px;line-height:22.67px;font-weight:700;color:#fff;letter-spacing:0.000px;transform:scaleX(0.9840);transform-origin:0 0;">operation and</div><div class="t" style="left:256.30px;top:350.02px;font-size:18.90px;line-height:22.67px;font-weight:700;color:#fff;letter-spacing:0.000px;transform:scaleX(0.9974);transform-origin:0 0;">maintenance</div><div class="t" style="left:275.50px;top:373.62px;font-size:18.90px;line-height:22.67px;font-weight:700;color:#fff;letter-spacing:0.171px;">platform</div><div class="t" style="left:119.60px;top:493.56px;font-size:21.80px;line-height:26.16px;font-weight:700;color:#fff;letter-spacing:0.183px;-webkit-text-stroke:0.5px #fff;">SANSAN IoT platform</div><div class="t" style="left:583.80px;top:301.18px;font-size:15.55px;line-height:18.66px;font-weight:700;color:#fff;letter-spacing:0.000px;transform:scaleX(0.9593);transform-origin:0 0;">Intelligent</div><div class="t" style="left:583.80px;top:320.11px;font-size:15.55px;line-height:18.66px;font-weight:700;color:#fff;letter-spacing:0.000px;transform:scaleX(0.9586);transform-origin:0 0;">power</div><div class="t" style="left:583.80px;top:339.04px;font-size:15.55px;line-height:18.66px;font-weight:700;color:#fff;letter-spacing:0.000px;transform:scaleX(0.9510);transform-origin:0 0;">distribution</div><div class="t" style="left:583.80px;top:357.97px;font-size:15.55px;line-height:18.66px;font-weight:700;color:#fff;letter-spacing:0.000px;transform:scaleX(0.9235);transform-origin:0 0;">room main</div><div class="t" style="left:583.80px;top:376.90px;font-size:15.55px;line-height:18.66px;font-weight:700;color:#fff;letter-spacing:0.000px;transform:scaleX(0.9524);transform-origin:0 0;">station system</div><div class="t" style="left:583.80px;top:436.98px;font-size:15.55px;line-height:18.66px;font-weight:700;color:#fff;letter-spacing:0.000px;transform:scaleX(0.9593);transform-origin:0 0;">Intelligent</div><div class="t" style="left:583.80px;top:456.08px;font-size:15.55px;line-height:18.66px;font-weight:700;color:#fff;letter-spacing:0.000px;transform:scaleX(0.9522);transform-origin:0 0;">operation</div><div class="t" style="left:583.80px;top:475.18px;font-size:15.55px;line-height:18.66px;font-weight:700;color:#fff;letter-spacing:0.000px;transform:scaleX(0.8953);transform-origin:0 0;">and</div><div class="t" style="left:583.80px;top:494.28px;font-size:15.55px;line-height:18.66px;font-weight:700;color:#fff;letter-spacing:0.000px;transform:scaleX(0.9560);transform-origin:0 0;">maintenance</div><div class="t" style="left:583.80px;top:513.38px;font-size:15.55px;line-height:18.66px;font-weight:700;color:#fff;letter-spacing:0.000px;transform:scaleX(0.9020);transform-origin:0 0;">APPs</div><div class="t" style="left:214.90px;top:606.64px;font-size:20.35px;line-height:24.42px;font-weight:400;color:#fff;letter-spacing:0.000px;transform:scaleX(0.8413);transform-origin:0 0;">3G</div><div class="t" style="left:252.50px;top:606.64px;font-size:20.35px;line-height:24.42px;font-weight:400;color:#fff;letter-spacing:0.000px;transform:scaleX(0.8930);transform-origin:0 0;">4G</div><div class="t" style="left:291.50px;top:606.64px;font-size:20.35px;line-height:24.42px;font-weight:400;color:#fff;letter-spacing:0.000px;transform:scaleX(0.8635);transform-origin:0 0;">5G</div><div class="t" style="left:338.00px;top:606.64px;font-size:20.35px;line-height:24.42px;font-weight:400;color:#fff;letter-spacing:0.606px;">VPN private network</div><div class="t" style="left:230.30px;top:654.81px;font-size:32.85px;line-height:39.42px;font-weight:700;color:#1bc4f2;letter-spacing:0.962px;-webkit-text-stroke:0.9px #1bc4f2;">Distribution room</div><div class="t" style="left:470.80px;top:735.64px;font-size:16.86px;line-height:20.23px;font-weight:700;color:#2bbcf0;letter-spacing:0.000px;transform:scaleX(0.9439);transform-origin:0 0;">Environment monitoring</div><div class="t" style="left:470.80px;top:761.62px;font-size:15.41px;line-height:18.49px;font-weight:400;color:#dde2ee;letter-spacing:0.338px;">Temperature, humidity,</div><div class="t" style="left:470.80px;top:781.12px;font-size:15.41px;line-height:18.49px;font-weight:400;color:#dde2ee;letter-spacing:0.000px;transform:scaleX(0.9889);transform-origin:0 0;">smoke, water level, and</div><div class="t" style="left:470.90px;top:800.62px;font-size:15.41px;line-height:18.49px;font-weight:400;color:#dde2ee;letter-spacing:0.186px;">water immersion</div><div class="t" style="left:470.80px;top:857.34px;font-size:16.86px;line-height:20.23px;font-weight:700;color:#2bbcf0;letter-spacing:0.000px;transform:scaleX(0.9403);transform-origin:0 0;">Device monitoring</div><div class="t" style="left:470.80px;top:881.02px;font-size:15.41px;line-height:18.49px;font-weight:400;color:#dde2ee;letter-spacing:0.081px;">Partial discharge, wireless</div><div class="t" style="left:470.80px;top:900.22px;font-size:15.41px;line-height:18.49px;font-weight:400;color:#dde2ee;letter-spacing:0.170px;">temperature measuring</div><div class="t" style="left:470.80px;top:919.42px;font-size:15.41px;line-height:18.49px;font-weight:400;color:#dde2ee;letter-spacing:0.358px;">battery, transformer</div><div class="t" style="left:470.80px;top:973.94px;font-size:16.86px;line-height:20.23px;font-weight:700;color:#2bbcf0;letter-spacing:0.000px;transform:scaleX(0.9364);transform-origin:0 0;">Linkage control</div><div class="t" style="left:470.80px;top:997.32px;font-size:15.41px;line-height:18.49px;font-weight:400;color:#dde2ee;letter-spacing:0.092px;">Air conditioning linkage,</div><div class="t" style="left:470.80px;top:1016.22px;font-size:15.41px;line-height:18.49px;font-weight:400;color:#dde2ee;letter-spacing:0.036px;">lighting linkage, video</div><div class="t" style="left:470.80px;top:1035.12px;font-size:15.41px;line-height:18.49px;font-weight:400;color:#dde2ee;letter-spacing:0.055px;">linkage, access control</div><div class="t" style="left:470.80px;top:1054.02px;font-size:15.41px;line-height:18.49px;font-weight:400;color:#dde2ee;letter-spacing:0.000px;transform:scaleX(0.9631);transform-origin:0 0;">linkage</div><div class="t" style="left:470.80px;top:1116.34px;font-size:16.86px;line-height:20.23px;font-weight:700;color:#2bbcf0;letter-spacing:0.000px;transform:scaleX(0.9318);transform-origin:0 0;">Video surveillance</div><div class="t" style="left:470.80px;top:1143.32px;font-size:15.41px;line-height:18.49px;font-weight:400;color:#dde2ee;letter-spacing:0.000px;transform:scaleX(0.9891);transform-origin:0 0;">Live video, video playback,</div><div class="t" style="left:470.80px;top:1162.32px;font-size:15.41px;line-height:18.49px;font-weight:400;color:#dde2ee;letter-spacing:0.000px;transform:scaleX(0.9657);transform-origin:0 0;">AI events</div><div class="t" style="left:470.80px;top:1238.34px;font-size:16.86px;line-height:20.23px;font-weight:700;color:#2bbcf0;letter-spacing:0.000px;transform:scaleX(0.9035);transform-origin:0 0;">Access control</div><div class="t" style="left:470.80px;top:1261.32px;font-size:15.41px;line-height:18.49px;font-weight:400;color:#dde2ee;letter-spacing:0.185px;">Access control, intelligent</div><div class="t" style="left:470.80px;top:1281.12px;font-size:15.41px;line-height:18.49px;font-weight:400;color:#dde2ee;letter-spacing:0.020px;">door lock, doorsensor</div><div class="t" style="left:470.80px;top:1344.44px;font-size:16.86px;line-height:20.23px;font-weight:700;color:#2bbcf0;letter-spacing:0.000px;transform:scaleX(0.9467);transform-origin:0 0;">Intelligent inspection</div><div class="t" style="left:470.80px;top:1367.32px;font-size:15.41px;line-height:18.49px;font-weight:400;color:#dde2ee;letter-spacing:0.200px;">Data monitoring, automatic</div><div class="t" style="left:470.80px;top:1386.22px;font-size:15.41px;line-height:18.49px;font-weight:400;color:#dde2ee;letter-spacing:0.252px;">inspection, inspection</div><div class="t" style="left:470.80px;top:1405.12px;font-size:15.41px;line-height:18.49px;font-weight:400;color:#dde2ee;letter-spacing:0.000px;transform:scaleX(0.9947);transform-origin:0 0;">alarm, remote control,</div><div class="t" style="left:470.80px;top:1424.02px;font-size:15.41px;line-height:18.49px;font-weight:400;color:#dde2ee;letter-spacing:0.425px;">instrument identification</div><div class="t" style="left:233.75px;top:838.95px;font-size:15.26px;line-height:18.31px;font-weight:400;color:#cfd4e4;letter-spacing:0.100px;">Lora wireless</div><div class="t" style="left:226.25px;top:859.75px;font-size:15.26px;line-height:18.31px;font-weight:400;color:#cfd4e4;letter-spacing:0.300px;">communication</div><div class="t" style="left:122.30px;top:918.93px;font-size:18.46px;line-height:22.15px;font-weight:400;color:#fff;letter-spacing:0.000px;transform:scaleX(0.9698);transform-origin:0 0;">MQTT / SIP-B</div><div class="t" style="left:104.70px;top:985.69px;font-size:18.60px;line-height:22.33px;font-weight:400;color:#fff;letter-spacing:0.418px;">Intelligent AI Box</div><div class="t" style="left:99.80px;top:1210.07px;font-size:18.31px;line-height:21.98px;font-weight:400;color:#fff;letter-spacing:0.772px;">Intelligent station</div><div class="t" style="left:95.80px;top:1234.07px;font-size:18.31px;line-height:21.98px;font-weight:400;color:#fff;letter-spacing:0.781px;">monitoring system</div><div class="t" style="left:333.60px;top:1155.77px;font-size:15.99px;line-height:19.19px;font-weight:400;color:#cfd4e4;letter-spacing:0.000px;transform:scaleX(0.8562);transform-origin:0 0;">TCP</div><div class="t" style="left:297.00px;top:1280.17px;font-size:15.99px;line-height:19.19px;font-weight:400;color:#cfd4e4;letter-spacing:0.000px;transform:scaleX(0.9889);transform-origin:0 0;">Lora/485</div><div class="t" style="left:307.80px;top:1403.78px;font-size:16.72px;line-height:20.06px;font-weight:400;color:#cfd4e4;letter-spacing:0.000px;transform:scaleX(0.8736);transform-origin:0 0;">TCP/IP</div>
</body></html>
